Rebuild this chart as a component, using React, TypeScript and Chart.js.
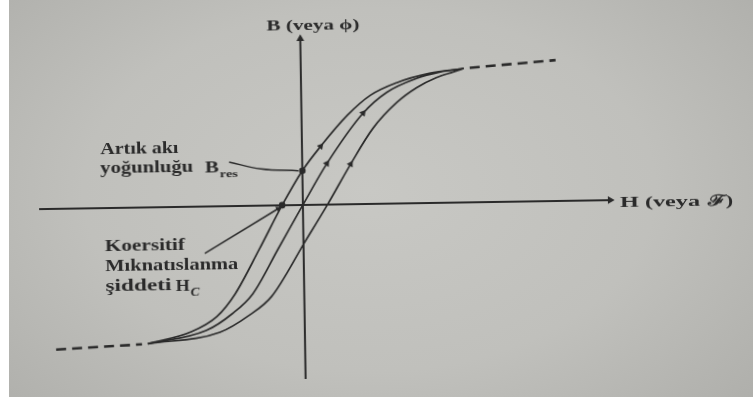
import React, { useEffect, useRef } from "react";
import { Chart, registerables } from "chart.js";

Chart.register(...registerables);

// Remanent flux density and coercive field strength on the loop
const B_RES = 3.5;
const H_C = -2.1;

// Descending (left) branch of the hysteresis loop
const descendingH = [-15.9, -11.5, -8.9, -7.0, -4.5, H_C, 0, 1.9, 4.65, 7.0, 9.7, 13.0, 16.5];
const descendingB = [-13.95, -12.8, -11.3, -9.0, -4.5, 0, B_RES, 5.97, 9.1, 11.1, 12.35, 13.25, 13.7];

// Initial magnetisation curve through the origin
const initialH = [-15.9, -10.0, -7.3, -5.2, -2.57, 0, 2.5, 6.25, 8.7, 11.7, 14.0, 16.5];
const initialB = [-13.95, -12.7, -11.0, -9.0, -4.46, 0, 4.2, 9.3, 11.4, 12.75, 13.35, 13.7];

// Ascending (right) branch
const ascendingH = [-15.9, -8.6, -5.6, -3.3, 0.2, 2.5, 4.9, 7.2, 9.7, 11.7, 13.7, 15.4, 16.5];
const ascendingB = [-13.95, -12.9, -11.2, -9.3, -3.7, 0, 4.1, 7.7, 10.35, 11.8, 12.8, 13.35, 13.7];

// Dashed continuation beyond saturation
const upperSatH = [17.1, 25.8];
const upperSatB = [13.75, 14.4];
const lowerSatH = [-25.2, -16.5];
const lowerSatB = [-14.4, -14.0];

// Direction arrows, given as indices into each curve
const descendingArrows = [7];
const initialArrows = [6, 7];
const ascendingArrows = [6];

// Axis extents
const axisH = [-26.7, 31.1];
const axisB = [-17.8, 17.0];

// Leader lines for the two annotations
const resLeaderH = [-7.4, -4.2, -0.4];
const resLeaderB = [4.5, 3.75, 3.5];
const hcLeaderH = [-10.0, -2.5];
const hcLeaderB = [-4.8, -0.34];

const INK = "#2a2a2a";

type Label = { text: string; h: number; b: number; size: number; width: number; italic?: boolean };

const figureText: Label[] = [
  { text: "B (veya ϕ)", h: -3.4, b: 17.9, size: 15, width: 93 },
  { text: "H (veya", h: 32.1, b: -0.75, size: 15, width: 80 },
  { text: "ℱ)", h: 41.0, b: -0.75, size: 15, width: 25 },
  { text: "Artık akı", h: -20.4, b: 5.5, size: 17, width: 78 },
  { text: "yoğunluğu", h: -20.45, b: 3.6, size: 17, width: 93 },
  { text: "B", h: -9.85, b: 3.46, size: 17, width: 14 },
  { text: "res", h: -8.36, b: 2.93, size: 10, width: 18 },
  { text: "Koersitif", h: -20.1, b: -4.39, size: 17, width: 80 },
  { text: "Mıknatıslanma", h: -20.1, b: -6.49, size: 17, width: 133 },
  { text: "şiddeti", h: -20.1, b: -8.49, size: 17, width: 66 },
  { text: "H", h: -13.0, b: -8.6, size: 17, width: 14 },
  { text: "C", h: -11.5, b: -9.1, size: 12, width: 9, italic: true },
];

const pts = (hs: number[], bs: number[]) => hs.map((h, i) => ({ x: h, y: bs[i] }));

// Clockwise rotation (degrees) of the tangent at point i, pointing toward increasing H
const tangentAt = (hs: number[], bs: number[], i: number) => {
  const a = Math.max(0, i - 1);
  const b = Math.min(hs.length - 1, i + 1);
  return (Math.atan2(hs[b] - hs[a], bs[b] - bs[a]) * 180) / Math.PI;
};

const textPlugin = {
  id: "figureText",
  afterDatasetsDraw(chart: any) {
    const { ctx, scales } = chart;
    const xs = scales.x;
    const ys = scales.y;
    ctx.save();
    ctx.fillStyle = INK;
    ctx.textBaseline = "alphabetic";
    ctx.textAlign = "left";
    for (const t of figureText) {
      ctx.font = `${t.italic ? "italic " : ""}bold ${t.size}px "Liberation Serif", "DejaVu Serif", serif`;
      const w = ctx.measureText(t.text).width;
      ctx.save();
      ctx.translate(xs.getPixelForValue(t.h), ys.getPixelForValue(t.b));
      ctx.scale(t.width / w, 1);
      ctx.fillText(t.text, 0, 0);
      ctx.restore();
    }
    ctx.restore();
  },
};

export default function App() {
  const ref = useRef<HTMLCanvasElement | null>(null);

  useEffect(() => {
    const canvas = ref.current;
    if (!canvas) return;

    const curve = (hs: number[], bs: number[]) => ({
      data: pts(hs, bs),
      showLine: true,
      borderColor: INK,
      borderWidth: 1.7,
      pointRadius: 0,
      cubicInterpolationMode: "monotone" as const,
    });

    const arrows = (hs: number[], bs: number[], idx: number[]) => ({
      data: idx.map((i) => ({ x: hs[i], y: bs[i] })),
      showLine: false,
      pointStyle: "triangle" as const,
      pointRadius: 4,
      pointBorderWidth: 0,
      backgroundColor: INK,
      rotation: idx.map((i) => tangentAt(hs, bs, i)),
    });

    const chart = new Chart(canvas, {
      type: "scatter",
      data: {
        datasets: [
          // horizontal axis with arrowhead
          {
            data: [{ x: axisH[0], y: 0 }, { x: axisH[1], y: 0 }],
            showLine: true,
            borderColor: INK,
            borderWidth: 2,
            pointStyle: "triangle",
            pointRadius: [0, 4.5],
            pointBorderWidth: 0,
            backgroundColor: INK,
            rotation: 90,
          },
          // vertical axis with arrowhead
          {
            data: [{ x: 0, y: axisB[0] }, { x: 0, y: axisB[1] }],
            showLine: true,
            borderColor: INK,
            borderWidth: 2,
            pointStyle: "triangle",
            pointRadius: [0, 4.5],
            pointBorderWidth: 0,
            backgroundColor: INK,
            rotation: 0,
          },
          curve(descendingH, descendingB),
          curve(initialH, initialB),
          curve(ascendingH, ascendingB),
          {
            data: pts(upperSatH, upperSatB),
            showLine: true,
            borderColor: INK,
            borderWidth: 2.6,
            borderDash: [10, 6],
            pointRadius: 0,
          },
          {
            data: pts(lowerSatH, lowerSatB),
            showLine: true,
            borderColor: INK,
            borderWidth: 2.6,
            borderDash: [10, 6],
            pointRadius: 0,
          },
          arrows(descendingH, descendingB, descendingArrows),
          arrows(initialH, initialB, initialArrows),
          arrows(ascendingH, ascendingB, ascendingArrows),
          // remanence and coercivity points
          {
            data: [{ x: 0, y: B_RES }, { x: H_C, y: 0 }],
            showLine: false,
            pointRadius: 3.3,
            pointBorderWidth: 0,
            backgroundColor: INK,
          },
          // leader to B_res
          {
            data: pts(resLeaderH, resLeaderB),
            showLine: true,
            borderColor: INK,
            borderWidth: 1.5,
            pointRadius: 0,
            tension: 0.4,
          },
          // leader to H_C with arrowhead
          {
            data: pts(hcLeaderH, hcLeaderB),
            showLine: true,
            borderColor: INK,
            borderWidth: 1.5,
            pointStyle: "triangle",
            pointRadius: [0, 3.5],
            pointBorderWidth: 0,
            backgroundColor: INK,
            rotation: tangentAt(hcLeaderH, hcLeaderB, 1),
          },
        ] as any,
      },
      options: {
        animation: false,
        responsive: false,
        devicePixelRatio: 1,
        layout: { padding: 0 },
        events: [],
        plugins: { legend: { display: false }, tooltip: { enabled: false } },
        scales: {
          x: { type: "linear", min: -30.2, max: 45.1, display: false },
          y: { type: "linear", min: -19.8, max: 20.5, display: false },
        },
      },
      plugins: [textPlugin],
    });

    return () => chart.destroy();
  }, []);

  return (
    <div
      style={{
        position: "fixed",
        left: 0,
        top: 0,
        width: 753,
        height: 403,
        background: "#ffffff",
        overflow: "hidden",
      }}
    >
      <div
        style={{
          position: "absolute",
          left: 9,
          top: 0,
          width: 744,
          height: 397,
          background:
            "radial-gradient(ellipse 520px 330px at 360px 190px, #c8c8c4 0%, #c0c0bc 55%, #aeaeaa 100%)",
        }}
      />
      <canvas
        ref={ref}
        width={753}
        height={403}
        style={{
          position: "absolute",
          left: 0,
          top: 0,
          width: 753,
          height: 403,
          transform: "rotate(-0.9deg)",
          transformOrigin: "302px 205px",
        }}
      />
    </div>
  );
}
